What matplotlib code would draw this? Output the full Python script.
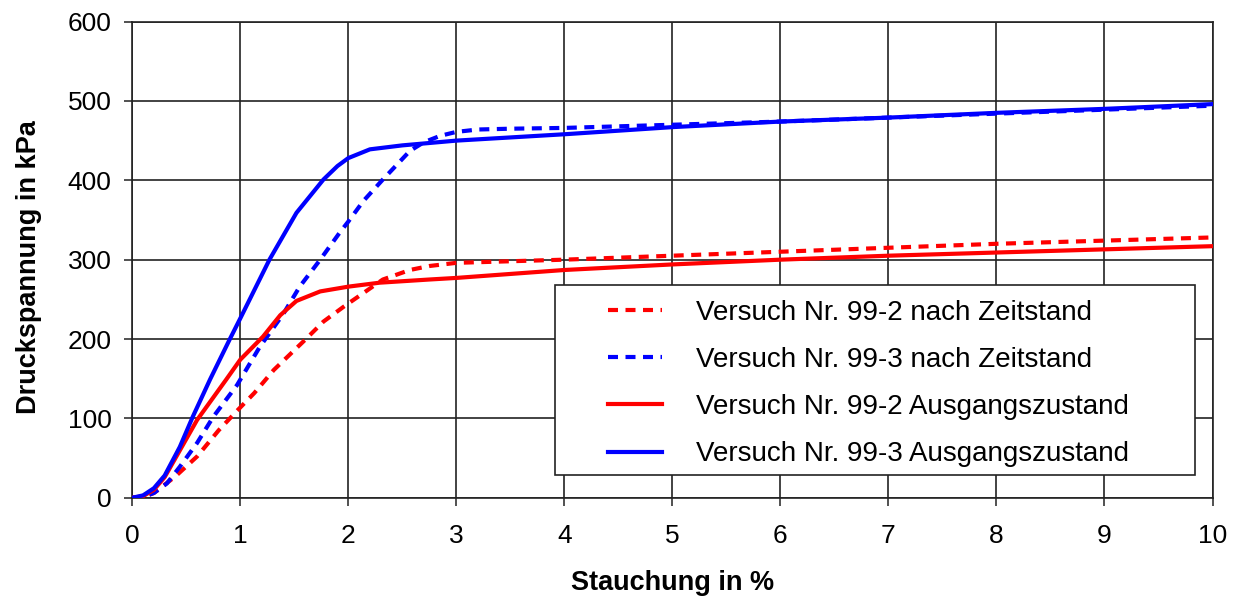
import matplotlib.pyplot as plt
from matplotlib.patches import Rectangle
import numpy as np

plt.rcParams['font.family'] = ['Liberation Sans', 'DejaVu Sans']

# Versuch 99-2 nach Zeitstand (rot, gestrichelt)
x_z2 = [0, 0.1, 0.2, 0.4, 0.6, 0.8, 0.98, 1.13, 1.31, 1.6, 1.77, 1.96, 2.14, 2.32, 2.57, 2.75, 3.0, 3.5, 4, 5, 6, 7, 8, 9, 10]
y_z2 = [0, 1, 6, 27, 52, 85, 111, 132, 161, 199, 222, 241, 258, 275, 287, 292, 296, 298, 300, 305, 310, 315, 320, 324, 328]

# Versuch 99-3 nach Zeitstand (blau, gestrichelt)
x_z3 = [0, 0.1, 0.2, 0.32, 0.44, 0.6, 0.75, 0.97, 1.18, 1.4, 1.55, 1.74, 1.92, 2.0, 2.14, 2.32, 2.48, 2.57, 2.7, 2.85, 3.0, 3.2, 3.5, 4, 5, 6, 7, 8, 9, 10]
y_z3 = [0, 1, 6, 18, 39, 69, 102, 142, 190, 232, 266, 300, 334, 348, 374, 401, 424, 437, 448, 456, 461, 464, 465, 466, 470, 474, 479, 484, 489, 494]

# Versuch 99-2 Ausgangszustand (rot)
x_a2 = [0, 0.1, 0.2, 0.3, 0.45, 0.6, 0.87, 1.0, 1.21, 1.37, 1.52, 1.74, 2.0, 2.29, 2.75, 3.0, 4, 5, 6, 7, 8, 9, 10]
y_a2 = [0, 2, 10, 26, 62, 98, 149, 174, 203, 230, 248, 260, 266, 271, 275, 277, 287, 294, 300, 305, 309, 313, 317]

# Versuch 99-3 Ausgangszustand (blau)
x_a3 = [0, 0.1, 0.2, 0.3, 0.44, 0.56, 0.72, 0.9, 1.0, 1.27, 1.52, 1.77, 1.9, 2.0, 2.2, 2.5, 2.75, 3.0, 3.5, 4, 5, 6, 7, 8, 9, 10]
y_a3 = [0, 3, 12, 28, 64, 102, 149, 199, 226, 300, 359, 401, 418, 428, 439, 444, 447, 450, 454, 458, 467, 474, 479, 485, 490, 496]

labels = ["Versuch Nr. 99-2 nach Zeitstand",
          "Versuch Nr. 99-3 nach Zeitstand",
          "Versuch Nr. 99-2 Ausgangszustand",
          "Versuch Nr. 99-3 Ausgangszustand"]

fig = plt.figure(figsize=(12.36, 5.99), dpi=100)
ax = fig.add_axes([0.107, 0.169, 0.874, 0.795])

ax.plot(x_z2, y_z2, color='#ff0000', lw=3, dashes=(2.4, 1.8), label=labels[0], zorder=3)
ax.plot(x_z3, y_z3, color='#0000ff', lw=3, dashes=(2.4, 1.8), label=labels[1], zorder=3)
ax.plot(x_a2, y_a2, color='#ff0000', lw=3, label=labels[2], zorder=3)
ax.plot(x_a3, y_a3, color='#0000ff', lw=3, label=labels[3], zorder=3)

ax.set_xlim(0, 10)
ax.set_ylim(0, 600)
ax.set_xticks(np.arange(0, 11, 1))
ax.set_yticks(np.arange(0, 601, 100))
ax.grid(True, color='#222222', lw=1.2)
ax.set_axisbelow(True)
for s in ax.spines.values():
    s.set_color('#222222')
    s.set_linewidth(1.2)
ax.tick_params(direction='out', length=6, width=1.1, color='#222222', labelsize=19, pad=9)
ax.tick_params(axis='x', pad=13)

ax.set_xlabel("Stauchung in %", fontsize=19.5, fontweight='bold', labelpad=16)
ax.set_ylabel("Druckspannung in kPa", fontsize=19.5, fontweight='bold', labelpad=18)
ax.yaxis.label.set_y(0.485)

# legend frame drawn separately (wider than content on the right)
box = Rectangle((0.3914, 0.0477), 0.5926, 0.3993, transform=ax.transAxes,
                facecolor='white', edgecolor='#222222', lw=1.2, zorder=4)
ax.add_patch(box)

leg = ax.legend(loc='upper left', bbox_to_anchor=(0.4407, 0.4155), fontsize=20,
                frameon=False, handlelength=1.95, handletextpad=1.2,
                labelspacing=0.76, borderpad=0, borderaxespad=0)
leg.set_zorder(5)

fig.savefig("out.png", dpi=100)
